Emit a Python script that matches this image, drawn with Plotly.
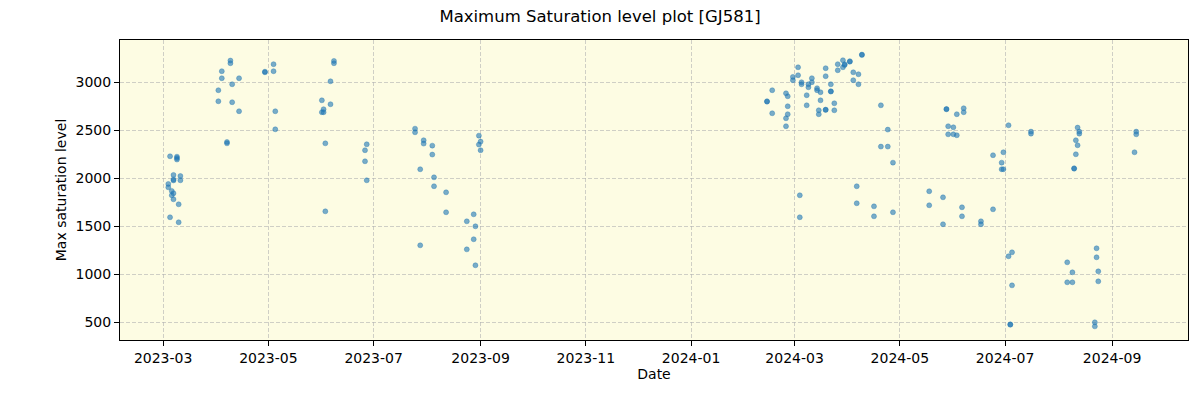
import plotly.graph_objects as go

# 2023 observations
dates_2023 = [
    "2023-03-05", "2023-03-09", "2023-03-09", "2023-03-09", "2023-03-07", "2023-03-07",
    "2023-03-07", "2023-03-11", "2023-03-11", "2023-03-04", "2023-03-04", "2023-03-06",
    "2023-03-07", "2023-03-06", "2023-03-07", "2023-03-10", "2023-03-05", "2023-03-10",
    "2023-04-09", "2023-04-09", "2023-04-04", "2023-04-04", "2023-04-02", "2023-04-02",
    "2023-04-10", "2023-04-10", "2023-04-14", "2023-04-14", "2023-04-07", "2023-04-07",
    "2023-04-29", "2023-04-29", "2023-05-04", "2023-05-04", "2023-05-05", "2023-05-05",
    "2023-06-08", "2023-06-08", "2023-06-06", "2023-06-01", "2023-06-06", "2023-06-02",
    "2023-06-01", "2023-06-02", "2023-06-03", "2023-06-03",
    "2023-06-27", "2023-06-26", "2023-06-26", "2023-06-27",
    "2023-07-25", "2023-07-25", "2023-07-30", "2023-07-30", "2023-08-04", "2023-08-04",
    "2023-07-28", "2023-08-05", "2023-08-05", "2023-08-12", "2023-08-12", "2023-08-28",
    "2023-08-24", "2023-08-29", "2023-08-28", "2023-08-24", "2023-08-29", "2023-07-28",
    "2023-08-31", "2023-09-01", "2023-08-31", "2023-09-01",
]
values_2023 = [
    2229, 2225, 2210, 2195, 2035, 1988,
    1978, 2024, 1979, 1941, 1906, 1868,
    1844, 1823, 1781, 1729, 1594, 1542,
    3226, 3198, 3115, 3042, 2917, 2802,
    2979, 2792, 3042, 2698, 2378, 2364,
    3110, 3104, 3188, 3115, 2698, 2510,
    3222, 3198, 3010, 2812, 2771, 2719,
    2688, 2688, 2364, 1656,
    2354, 2292, 2177, 1979,
    2517, 2479, 2396, 2361, 2340, 2247,
    2094, 2010, 1917, 1854, 1646, 1625,
    1552, 1500, 1365, 1260, 1094, 1302,
    2444, 2382, 2351, 2292,
]

# 2024 observations
dates_2024 = [
    "2024-02-14", "2024-02-14", "2024-02-17", "2024-02-17", "2024-02-25", "2024-02-26",
    "2024-02-26", "2024-02-26", "2024-02-25", "2024-02-25", "2024-02-29", "2024-02-29",
    "2024-03-03", "2024-03-03", "2024-03-05", "2024-03-05", "2024-03-04", "2024-03-04",
    "2024-03-08", "2024-03-08", "2024-03-09", "2024-03-09", "2024-03-11", "2024-03-11",
    "2024-03-14", "2024-03-14", "2024-03-16", "2024-03-16", "2024-03-15", "2024-03-15",
    "2024-03-19", "2024-03-19", "2024-03-19", "2024-03-19", "2024-03-22", "2024-03-22",
    "2024-03-22", "2024-03-24", "2024-03-24", "2024-03-26", "2024-03-26", "2024-03-29",
    "2024-03-29", "2024-03-30", "2024-03-30", "2024-04-02", "2024-04-02", "2024-04-04",
    "2024-04-04", "2024-04-07", "2024-04-07", "2024-04-09", "2024-04-09", "2024-04-06",
    "2024-04-06", "2024-04-16", "2024-04-16", "2024-04-20", "2024-04-24", "2024-04-20",
    "2024-04-24", "2024-04-27", "2024-04-27", "2024-05-18", "2024-05-18",
    "2024-05-28", "2024-05-28", "2024-06-03", "2024-06-07", "2024-06-07", "2024-05-29",
    "2024-06-01", "2024-05-29", "2024-06-01", "2024-06-03",
    "2024-05-26", "2024-05-26", "2024-06-06", "2024-06-06", "2024-06-17", "2024-06-17",
    "2024-06-24", "2024-06-24", "2024-06-30", "2024-06-29", "2024-06-29", "2024-06-30",
    "2024-07-03", "2024-07-03", "2024-07-05", "2024-07-05", "2024-07-04", "2024-07-04",
    "2024-07-16", "2024-07-16", "2024-08-06", "2024-08-09", "2024-08-06", "2024-08-09",
    "2024-08-12", "2024-08-13", "2024-08-13", "2024-08-11", "2024-08-12", "2024-08-11",
    "2024-08-10", "2024-08-10", "2024-08-23", "2024-08-23", "2024-08-24", "2024-08-24",
    "2024-08-22", "2024-08-22", "2024-09-15", "2024-09-15", "2024-09-14",
]
values_2024 = [
    2802, 2798, 2917, 2677, 2885, 2854,
    2750, 2667, 2625, 2542, 3056, 3021,
    3156, 3073, 3000, 2979, 1823, 1594,
    2865, 2760, 2979, 2948, 3042, 3000,
    2938, 2917, 2896, 2812, 2708, 2667,
    3146, 3063, 2715, 2712, 2979, 2906,
    2903, 2781, 2708, 3188, 3125, 3229,
    3156, 3188, 3180, 3219, 3214, 3104,
    3021, 3083, 2979, 3288, 3284, 1917,
    1740, 1708, 1604, 2760, 2507, 2330,
    2330, 2163, 1646, 1865, 1719,
    2722, 2718, 2667, 2729, 2688, 2542,
    2531, 2458, 2458, 2448,
    1802, 1521, 1698, 1604, 1552, 1521,
    1677, 2240, 2271, 2163, 2094, 2094,
    2552, 1188, 1229, 885, 479, 475,
    2486, 2465, 1125, 1021, 917, 917,
    2528, 2486, 2465, 2396, 2344, 2250,
    2104, 2100, 1271, 1177, 1031, 927,
    500, 458, 2486, 2458, 2271,
]

tick_vals = ["2023-03-01", "2023-05-01", "2023-07-01", "2023-09-01", "2023-11-01",
             "2024-01-01", "2024-03-01", "2024-05-01", "2024-07-01", "2024-09-01"]
tick_text = ["2023-03", "2023-05", "2023-07", "2023-09", "2023-11",
             "2024-01", "2024-03", "2024-05", "2024-07", "2024-09"]
y_ticks = [500, 1000, 1500, 2000, 2500, 3000]

all_dates = dates_2023 + dates_2024
all_values = values_2023 + values_2024

fig = go.Figure()
fig.add_trace(go.Scatter(
    x=all_dates, y=all_values, mode="markers",
    marker=dict(size=5, color="rgba(31,119,180,0.6)",
                line=dict(width=0.6, color="rgba(31,119,180,0.6)")),
    showlegend=False,
))

axis_common = dict(
    showline=True, linecolor="black", linewidth=1, mirror=True,
    ticks="outside", ticklen=5, tickcolor="black", tickwidth=1,
    showgrid=True, gridcolor="rgba(176,176,176,0.6)", griddash="4px,2px", gridwidth=1,
    zeroline=False, automargin=False,
    tickfont=dict(family="DejaVu Sans", size=14, color="black"),
)

fig.update_layout(
    width=1200, height=400,
    margin=dict(l=120, r=12, t=40, b=60),
    paper_bgcolor="white",
    plot_bgcolor="#fdfce3",
    title=dict(text="Maximum Saturation level plot [GJ581]", x=0.5, xanchor="center",
               xref="container", yref="container", y=0.96, yanchor="middle", automargin=False,
               font=dict(family="DejaVu Sans", size=16.5, color="black")),
    xaxis=dict(type="date", range=["2023-02-04", "2024-10-15"],
               tickvals=tick_vals, ticktext=tick_text,
               title=dict(text="Date", font=dict(family="DejaVu Sans", size=14, color="black"),
                          standoff=4),
               **axis_common),
    yaxis=dict(range=[316, 3440], tickvals=y_ticks,
               title=dict(text="Max saturation level", font=dict(family="DejaVu Sans", size=14, color="black"),
                          standoff=5),
               **axis_common),
)

fig.write_html("out.html", config={"displayModeBar": False},
               post_script="document.body.style.margin='0';")
